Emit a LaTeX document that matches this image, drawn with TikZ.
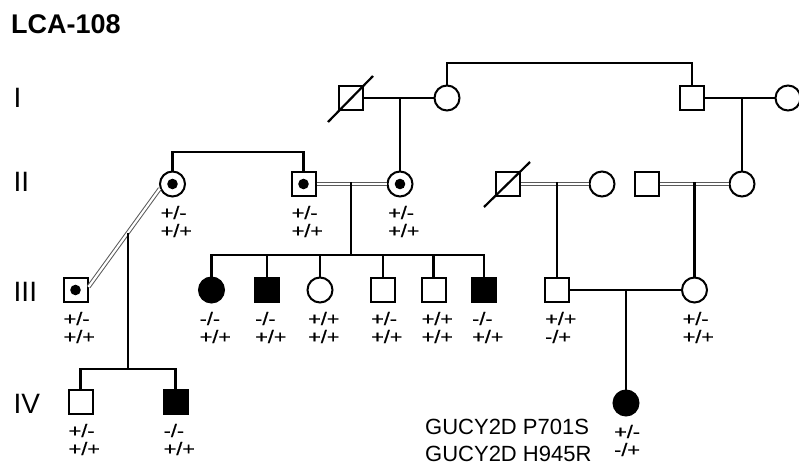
\documentclass[tikz,border=0pt]{standalone}
\usepackage{fontspec}
\setmainfont{Liberation Sans}
\newfontfamily\genfont[FakeStretch=1.2,FakeBold=0.6]{Liberation Sans}
\usetikzlibrary{calc}
\newcommand\geno[3]{\path (#1.center) ++(-12pt,-35pt) node[gen] (#1-ga) {#2} ++(0,-18pt) node[gen] (#1-gb) {#3};}
\begin{document}
\begin{tikzpicture}[x=1pt,y=-1pt,
  ln/.style={line width=2.2pt},
  dbl/.style={draw=black!65, line width=1pt, double=white, double distance=2.2pt},
  male/.style={draw, rectangle, line width=2pt, minimum size=24pt, inner sep=0pt},
  female/.style={draw, circle, line width=2pt, minimum size=25pt, inner sep=0pt},
  aff/.style={fill=black},
  carrier/.style={path picture={\fill (path picture bounding box.center) circle (5.3pt);}},
  gen/.style={font=\genfont\fontsize{18}{18}\selectfont, inner sep=0pt, anchor=base west},
  gnum/.style={font=\fontsize{28}{28}\selectfont, inner sep=0pt, anchor=base west},
  mut/.style={font=\fontsize{22}{22}\selectfont, inner sep=0pt, anchor=base west, text depth=0pt},
]
\useasboundingbox (0,0) rectangle (799,464);
% title and generation numbers
\node[font=\bfseries\fontsize{27}{27}\selectfont, inner sep=0pt, anchor=base west] (title) at (11,33) {LCA-108};
\node[gnum] (gI) at (13.5,107) {I};
\node[gnum] (gII) at (13.5,191) {II};
\node[gnum] (gIII) at (13.5,301) {III};
\node[gnum] (gIV) at (13.5,413) {IV};
% generation I
\node[male] (i1) at (351,98) {};
\node[female] (i2) at (447,98) {};
\node[male] (i3) at (692,98) {};
\node[female] (i4) at (788,98) {};
% generation II
\node[female,carrier] (ii1) at (172.5,184) {};
\node[male,carrier] (ii2) at (303.5,184) {};
\node[female,carrier] (ii3) at (400,184) {};
\node[male] (ii4) at (508,184) {};
\node[female] (ii5) at (602,184) {};
\node[male] (ii6) at (647,184) {};
\node[female] (ii7) at (742,184) {};
% generation III
\node[male,carrier] (iii1) at (75.5,290) {};
\node[female,aff] (iii2) at (211.5,290) {};
\node[male,aff] (iii3) at (267,290) {};
\node[female] (iii4) at (320,290) {};
\node[male] (iii5) at (383,290) {};
\node[male] (iii6) at (433.5,290) {};
\node[male,aff] (iii7) at (484,290) {};
\node[male] (iii8) at (557,290) {};
\node[female] (iii9) at (694.5,290) {};
% generation IV
\node[male] (iv1) at (80.5,402) {};
\node[male,aff] (iv2) at (175.5,402) {};
\node[female,aff] (iv3) at (626,403) {};
% deceased marks
\draw[ln] ($(i1.center)+(-23pt,-24pt)$) -- ($(i1.center)+(22pt,22pt)$);
\draw[ln] ($(ii4.center)+(-24pt,-23pt)$) -- ($(ii4.center)+(22pt,22pt)$);
% generation I lines
\coordinate (sibI) at (570,63);
\draw[ln] (i2.north) |- (sibI) -| (i3.north);
\draw[ln] (i1.east) -- (i2.west);
\draw[ln] (ii3.north) -- (ii3.north |- i1.center);
\draw[ln] (i3.east) -- (i4.west);
\draw[ln] (ii7.north) -- (ii7.north |- i3.center);
% generation II lines
\coordinate (sibII) at (240,152);
\draw[ln] (ii1.north) |- (sibII) -| (ii2.north);
\draw[dbl] (ii2.east) -- (ii3.west);
\coordinate (dII) at (351,182);
\coordinate (sibIII) at (351,255);
\draw[ln] (dII) -- (sibIII);
\draw[ln] (iii2.north) |- (sibIII) -| (iii7.north);
\foreach \n in {3,4,5,6} \draw[ln] (iii\n.north) -- (iii\n.north |- sibIII);
\draw[dbl] (ii4.east) -- (ii5.west);
\draw[ln] (iii8.north) -- ($(iii8.north |- ii4.center)+(0,2pt)$);
\draw[dbl] (ii6.east) -- (ii7.west);
\draw[ln] (iii9.north) -- ($(iii9.north |- ii6.center)+(0,2pt)$);
% generation III lines
\draw[ln] (iii8.east) -- (iii9.west);
\draw[ln] (iv3.north) -- (iv3.north |- iii8.center);
% left branch
\coordinate (a) at (ii1.200);
\coordinate (b) at ($(iii1.east)+(0,3pt)$);
\draw[dbl] (a) -- (b);
\coordinate (dIV) at ($(a)!0.45!(b)$);
\coordinate (sibIV) at (128,369);
\draw[ln] (dIV) -- (dIV |- sibIV);
\draw[ln] (iv1.north) |- (sibIV) -| (iv2.north);
% genotypes
\geno{ii1}{+/-}{+/+}
\geno{ii2}{+/-}{+/+}
\geno{ii3}{+/-}{+/+}
\geno{iii1}{+/-}{+/+}
\geno{iii2}{-/-}{+/+}
\geno{iii3}{-/-}{+/+}
\geno{iii4}{+/+}{+/+}
\geno{iii5}{+/-}{+/+}
\geno{iii6}{+/+}{+/+}
\geno{iii7}{-/-}{+/+}
\geno{iii8}{+/+}{-/+}
\geno{iii9}{+/-}{+/+}
\geno{iv1}{+/-}{+/+}
\geno{iv2}{-/-}{+/+}
\geno{iv3}{+/-}{-/+}
\node[mut] (mut1) at (425,434.5) {GUCY2D P701S};
\node[mut] (mut2) at (425,461) {GUCY2D H945R};
\end{tikzpicture}
\end{document}
